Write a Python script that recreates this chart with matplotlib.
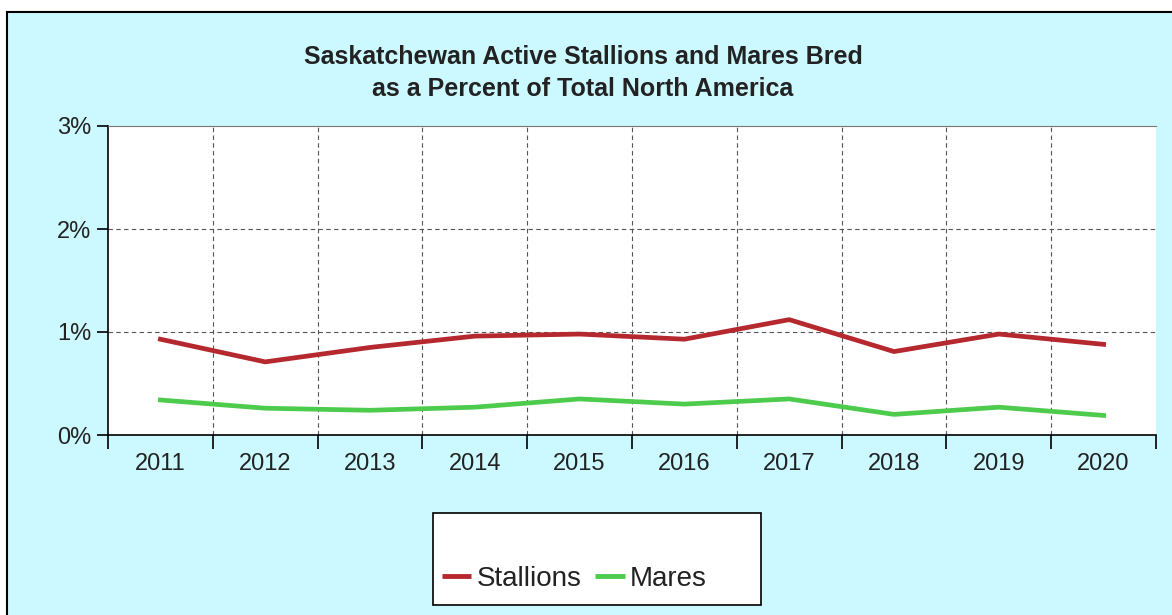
import matplotlib.pyplot as plt
from matplotlib.patches import Rectangle
from matplotlib.lines import Line2D

years = ["2011", "2012", "2013", "2014", "2015", "2016", "2017", "2018", "2019", "2020"]
stallions = [0.93, 0.71, 0.85, 0.96, 0.98, 0.93, 1.12, 0.81, 0.98, 0.88]
mares = [0.34, 0.26, 0.24, 0.27, 0.35, 0.30, 0.35, 0.20, 0.27, 0.19]

plt.rcParams['font.family'] = ['Liberation Sans', 'DejaVu Sans']

W, H = 1172, 615
fig = plt.figure(figsize=(W / 100, H / 100), dpi=100, facecolor="white")

# cyan panel with black border
fig.patches.append(Rectangle((7 / W, -0.1), 1.2, 1 - 12 / H + 0.1, transform=fig.transFigure,
                             facecolor="#ccf9ff", edgecolor="black", linewidth=1.5, zorder=-10))

ax = fig.add_axes([108 / W, 1 - 435 / H, (1156 - 108) / W, (435 - 126) / H])
ax.set_facecolor("white")

x = range(len(years))
ax.plot(x, stallions, color="#b5282e", linewidth=3.4, label="Stallions", zorder=3)
ax.plot(x, mares, color="#4ccb4c", linewidth=3.4, label="Mares", zorder=3)

ax.set_xlim(-0.5, len(years) - 0.5)
ax.set_ylim(0, 3)
ax.set_yticks([0, 1, 2, 3])
ax.set_yticklabels(["0%", "1%", "2%", "3%"], fontsize=17, color="#222222")
ax.set_xticks([i - 0.5 for i in range(len(years) + 1)], minor=False)
ax.set_xticklabels([])
ax.set_xticks(list(x), minor=True)
ax.set_xticklabels(years, minor=True, fontsize=17, color="#222222")
ax.tick_params(axis="x", which="major", direction="out", length=10, width=1.2, color="black")
ax.tick_params(axis="x", which="minor", length=0, pad=13)
ax.tick_params(axis="y", direction="out", length=8, width=1.2, pad=4)

for b in [i + 0.5 for i in range(len(years) - 1)]:
    ax.axvline(b, color="#555555", linestyle=(0, (4, 3)), linewidth=0.8, zorder=1)
for v in [1, 2]:
    ax.axhline(v, color="#555555", linestyle=(0, (4, 3)), linewidth=0.8, zorder=1)

ax.spines["left"].set_linewidth(1.2)
ax.spines["bottom"].set_linewidth(1.2)
ax.spines["top"].set_color("#777777")
ax.spines["right"].set_visible(False)

fig.text(583 / W, 1 - 57 / H, "Saskatchewan Active Stallions and Mares Bred", ha="center", va="center",
         fontsize=18, fontweight="bold", color="#222222")
fig.text(583 / W, 1 - 89 / H, "as a Percent of Total North America", ha="center", va="center",
         fontsize=18, fontweight="bold", color="#222222")

# legend box
fig.patches.append(Rectangle((433 / W, 1 - 605 / H), (761 - 433) / W, (605 - 513) / H,
                             transform=fig.transFigure, facecolor="white", edgecolor="black",
                             linewidth=1.2, zorder=1))
handles = [Line2D([], [], color="#b5282e", linewidth=3.5, solid_capstyle="butt"),
           Line2D([], [], color="#4ccb4c", linewidth=3.5, solid_capstyle="butt")]
leg = fig.legend(handles, ["Stallions", "Mares"], loc="center left", bbox_to_anchor=(428 / W, 1 - 579 / H),
                 ncol=2, frameon=False, fontsize=20, handlelength=1.05, handletextpad=0.2,
                 columnspacing=0.5, borderpad=0, labelcolor="#222222")

fig.savefig("out.png", dpi=100)
